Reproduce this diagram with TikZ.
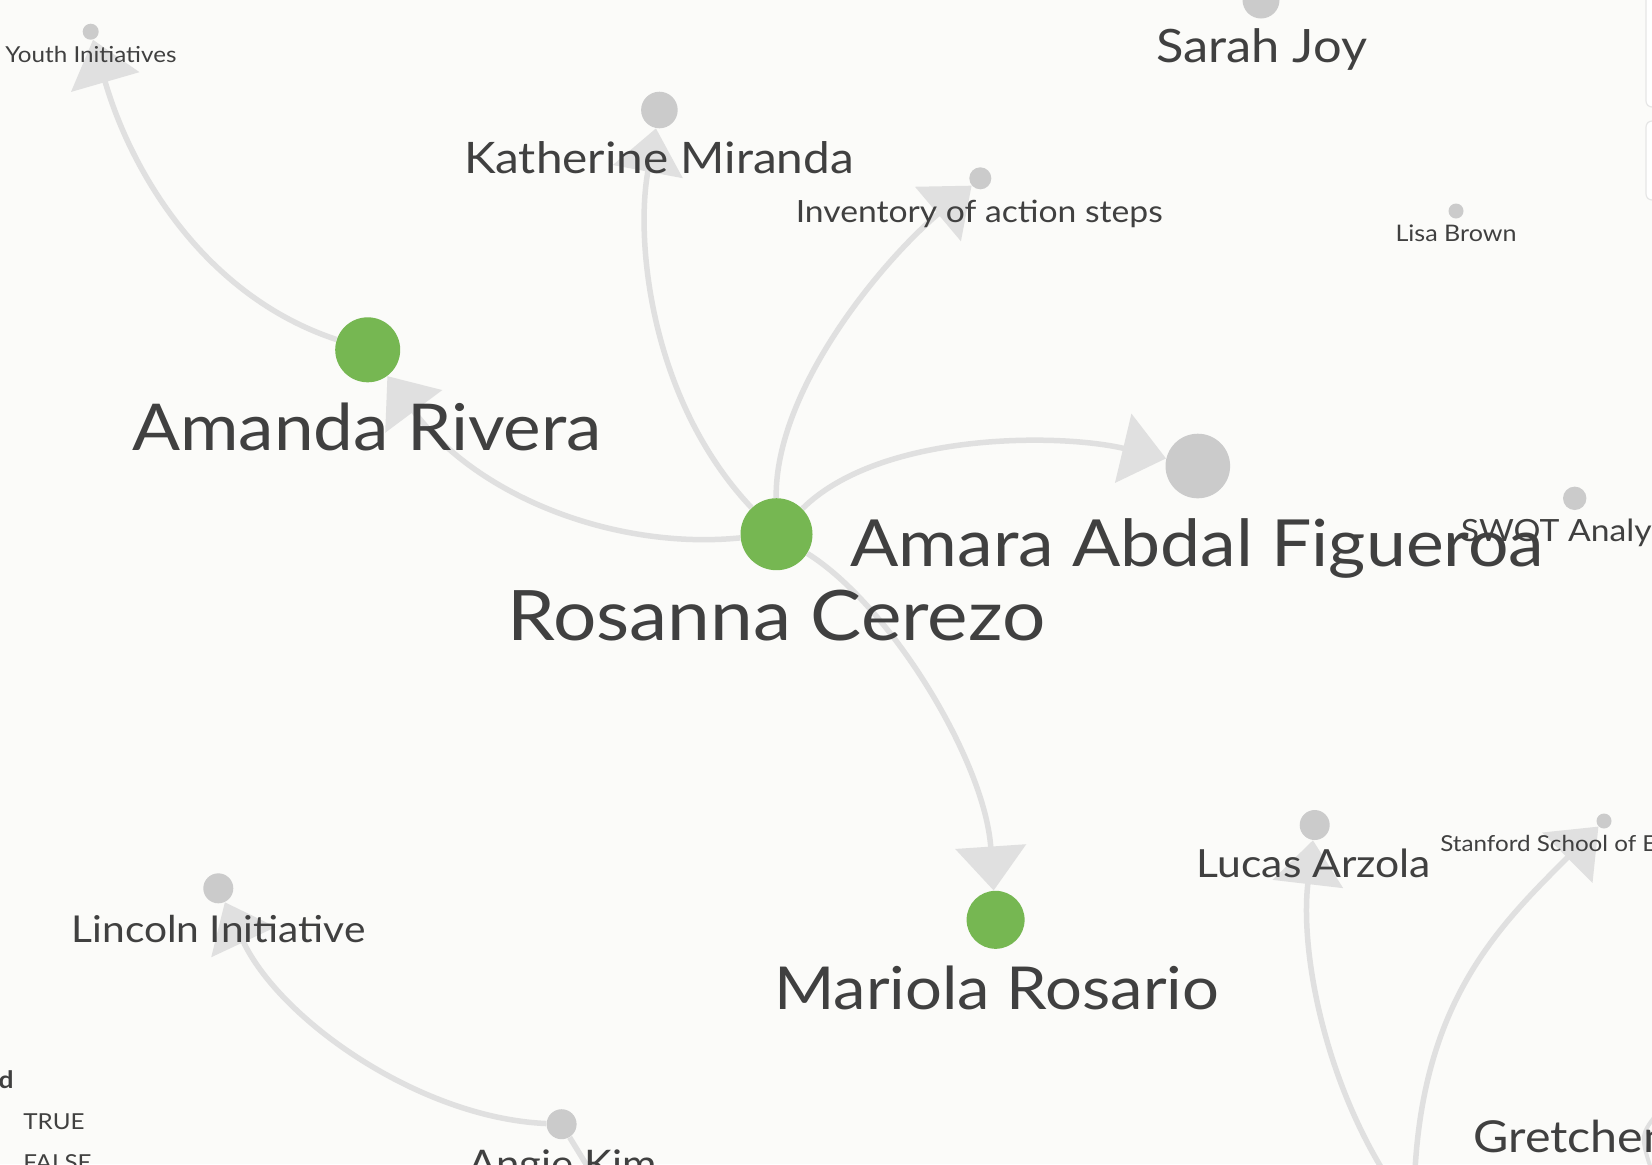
\documentclass[tikz,border=0pt]{standalone}
\usepackage{fontspec}
\setmainfont{Lato}[FakeStretch=1.1]
\usetikzlibrary{arrows.meta}
\definecolor{bg}{HTML}{FBFBF9}
\definecolor{txt}{HTML}{404040}
\definecolor{nodeg}{HTML}{76B752}
\definecolor{nodegray}{HTML}{CBCBCB}
\definecolor{edgec}{HTML}{E0E0E0}
\definecolor{panelc}{HTML}{E6E6E6}
\tikzset{
  gnode/.style={circle, fill=nodeg, inner sep=0pt},
  ynode/.style={circle, fill=nodegray, inner sep=0pt},
  edge/.style={draw=edgec, line width=2.75pt, -{Triangle[length=22pt,width=35pt]}},
  plainedge/.style={draw=edgec, line width=2.75pt},
  lab/.style={text=txt, inner sep=0pt, anchor=base},
  fsz/.style={font=\fontsize{#1}{#1}\selectfont},
  fmid/.style={font=\fontsize{22pt}{26pt}\selectfont},
  fsml/.style={font=\fontsize{19pt}{23pt}\selectfont},
  fsm/.style={font=\fontsize{15.3pt}{18pt}\selectfont},
  ftiny/.style={font=\fontsize{11pt}{13pt}\selectfont},
  panel/.style={draw=panelc, fill=white, rounded corners=3pt, line width=0.6pt}
}
\begin{document}
\begin{tikzpicture}[x=0.5pt,y=-0.5pt]
\useasboundingbox (0,0) rectangle (1652,1164);
\fill[bg] (0,0) rectangle (1652,1164);
\begin{scope}
\clip (0,0) rectangle (1652,1164);
% side panels
\draw[panel] (1646,-20) rectangle (1710,107);
\draw[panel] (1646,121) rectangle (1710,200);
% nodes
\node[gnode, minimum size=36pt] (ros) at (776.5,534.2) {};
\node[gnode, minimum size=32.5pt] (ama) at (367.7,349.8) {};
\node[gnode, minimum size=29pt] (mar) at (995.6,919.8) {};
\node[ynode, minimum size=32.3pt] (amf) at (1197.8,466) {};
\node[ynode, minimum size=18.3pt] (kat) at (659.4,110) {};
\node[ynode, minimum size=11pt] (inv) at (980.3,178.3) {};
\node[ynode, minimum size=18.5pt] (sar) at (1261,0) {};
\node[ynode, minimum size=7.5pt] (lis) at (1456,211) {};
\node[ynode, minimum size=8pt] (you) at (90.7,31.7) {};
\node[ynode, minimum size=11.7pt] (swo) at (1574.7,498.3) {};
\node[ynode, minimum size=15pt] (luc) at (1314.7,825) {};
\node[ynode, minimum size=7.5pt] (sta) at (1604,821) {};
\node[ynode, minimum size=15pt] (lin) at (218.3,888.3) {};
\node[ynode, minimum size=15pt] (ang) at (561.6,1124.2) {};
\coordinate (src) at (1414,1215);
\coordinate (angout) at (605,1195);
\coordinate (arcA) at (1660,1110);
\coordinate (arcB) at (1652,1172);
% edges
\draw[edge] (ros) .. controls (620,550) and (480,500) .. (ama);
\draw[edge] (ros) .. controls (650,400) and (635,240) .. (kat);
\draw[edge] (ros) .. controls (775,390) and (881,262) .. (inv);
\draw[edge] (ros) .. controls (880,432) and (1059,433) .. (amf);
\draw[edge] (ros) .. controls (890,605) and (985,761) .. (mar);
\draw[edge] (ama) .. controls (205,296) and (131.5,173) .. (you);
\draw[edge] (ang) .. controls (420,1118) and (280,1020) .. (lin);
\draw[plainedge] (ang) -- (angout);
\draw[edge] (src) .. controls (1330,1110) and (1299,959) .. (luc);
\draw[edge] (src) .. controls (1412,1010) and (1495,930) .. (sta);
\draw[plainedge, line width=2pt] (arcA) .. controls (1640,1135) .. (arcB);
% labels
\node[lab, fsz=34.8pt] (lros) at (776.5,640.6) {Rosanna Cerezo};
\node[lab, fsz=32.3pt] (lama) at (367.2,450) {Amanda Rivera};
\node[lab, fsz=32.5pt] (lamf) at (1197.4,566.8) {Amara Abdal Figueroa};
\node[lab, fsz=29.6pt] (lmar) at (996.7,1009.3) {Mariola Rosario};
\node[lab, fsz=21.7pt] (lkat) at (659,173.8) {Katherine Miranda};
\node[lab, fsz=23pt] (lsar) at (1261.5,62) {Sarah Joy};
\node[lab, fsm] (linv) at (979.3,222) {Inventory of action steps};
\node[lab, fsz=11.4pt] (llis) at (1456,241) {Lisa Brown};
\node[lab, ftiny] (lyou) at (91,62) {Youth Initiatives};
\node[lab, fsm] (lswo) at (1574.7,541) {SWOT Analysis};
\node[lab, fsz=19.4pt] (lluc) at (1314,877) {Lucas Arzola};
\node[lab, ftiny] (lsta) at (1604,851) {Stanford School of Engineering};
\node[lab, fsz=18.5pt] (llin) at (218.6,942) {Lincoln Initiative};
\node[lab, fsml] (lang) at (562.5,1177) {Angie Kim};
\node[lab, fmid, anchor=base west] (lgre) at (1473,1152) {Gretchen};
% legend
\node[lab, anchor=base east, font=\fontsize{12pt}{14pt}\selectfont\bfseries] (legt) at (14,1088) {d};
\node[lab, ftiny, anchor=base west] (legtrue) at (23,1129) {TRUE};
\node[lab, ftiny, anchor=base west] (legfalse) at (23,1170) {FALSE};
\end{scope}
\end{tikzpicture}
\end{document}
